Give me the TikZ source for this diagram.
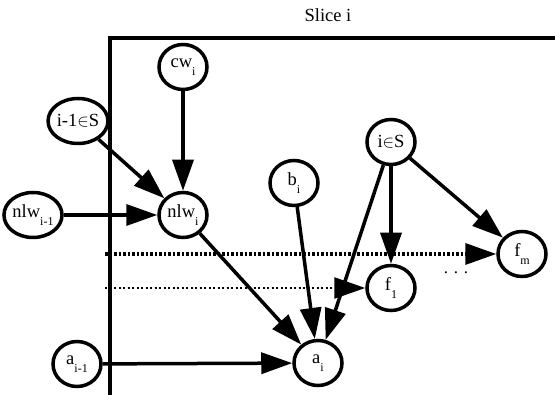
\documentclass[tikz,border=0pt]{standalone}
\usepackage{fontspec}
\setmainfont{Liberation Serif}
\usetikzlibrary{arrows.meta,shapes.geometric}
\newcommand{\lowsub}[1]{\raisebox{-0.45em}{\fontsize{12}{12}\selectfont #1}}
\tikzset{
  var/.style={draw, ellipse, line width=3.5pt, minimum width=48pt, minimum height=45pt, inner sep=0pt, font=\fontsize{18.5}{20}\selectfont},
  conn/.style={line width=3.5pt, -{Triangle[length=31pt,width=21pt]}},
  dotsA/.style={line width=3.5pt, dash pattern=on 2.5pt off 2pt, -{Triangle[length=31pt,width=21pt]}},
  dotsB/.style={line width=2.5pt, dash pattern=on 2pt off 2.5pt, -{Triangle[length=31pt,width=21pt]}},
  frame/.style={line width=3.5pt}
}
\begin{document}
\begin{tikzpicture}[x=1pt,y=-1pt]
\useasboundingbox (0,0) rectangle (555,395);
% frame
\coordinate (fb) at (110,395);
\coordinate (fc) at (110,38);
\coordinate (fr) at (555,38);
\draw[frame] (fb) -- (fc) -- (fr);
\node[font=\fontsize{18.5}{20}\selectfont] (title) at (328,15) {Slice i};
% nodes
\node[var] (cw) at (183,67) {cw\lowsub{i}};
\node[var] (im1) at (78,121) {i-1$\in$S};
\node[var] (nlwp) at (33,215) {nlw\lowsub{i-1}};
\node[var] (nlw) at (183,215) {nlw\lowsub{i}};
\node[var] (b) at (294,183) {b\lowsub{i}};
\node[var] (iS) at (391,142) {i$\in$S};
\node[var] (fm) at (522,254) {f\lowsub{m}};
\node[var] (f1) at (391,288) {f\lowsub{1}};
\node[var] (a) at (318,363) {a\lowsub{i}};
\node[var] (ap) at (77,364) {a\lowsub{i-1}};
\node[font=\fontsize{17}{20}\selectfont] (dots) at (456,273) {. . .};
% dotted sources
\coordinate (dA) at (105,254);
\coordinate (dB) at (105,288);
% edges
\draw[conn] (cw) -- (nlw);
\draw[conn] (im1) -- (nlw);
\draw[conn] (nlwp) -- (nlw);
\draw[conn] (nlw) -- (a);
\draw[conn] (b) -- (a);
\draw[conn] (iS) -- (a);
\draw[conn] (iS) -- (f1);
\draw[conn] (iS) -- (fm);
\draw[conn] (ap) -- (a);
\draw[dotsA] (dA) -- (fm);
\draw[dotsB] (dB) -- (f1);
\end{tikzpicture}
\end{document}
